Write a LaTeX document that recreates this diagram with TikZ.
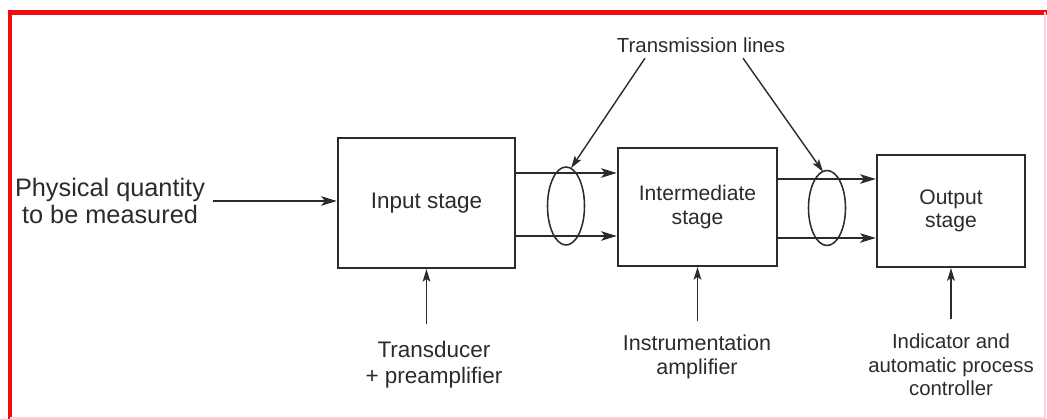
\documentclass[tikz,border=0pt]{standalone}
\usepackage{fontspec}
\setmainfont{Liberation Sans}
\usetikzlibrary{arrows.meta, positioning, shapes.geometric, calc}
\definecolor{inkDark}{HTML}{2B2B2B}
\definecolor{frameRed}{HTML}{F20D0D}
\definecolor{framePink}{HTML}{F9D4D8}
\tikzset{
  stageBox/.style={rectangle, draw=inkDark, line width=1.5pt, fill=white,
                   align=center, text=inkDark, inner sep=2pt},
  flowArrow/.style={-{Stealth[length=11pt, width=6.5pt, inset=2.5pt]}, inkDark, line width=2.1pt},
  pointArrow/.style={-{Stealth[length=9pt, width=5.5pt, inset=2pt]}, inkDark, line width=1pt},
  lineLoop/.style={ellipse, draw=inkDark, line width=1.1pt, minimum width=0.925cm,
                   minimum height=1.95cm, inner sep=0pt},
  noteText/.style={align=center, text=inkDark, inner sep=1pt},
}

\begin{document}
\begin{tikzpicture}[x=0.025cm, y=-0.025cm]
    \useasboundingbox (0,0) rectangle (1047,419);
    % screenshot frame
    \draw[frameRed, line width=3pt] (10,419) -- (10,12.5) -- (1047,12.5);
    \draw[framePink, line width=1pt] (1045,12.5) -- (1045,418) -- (10,418);

    % stages
    \node[stageBox, minimum width=4.425cm, minimum height=3.25cm, font=\fontsize{16}{18}\selectfont] (inp) at (426.5,203) {Input stage};
    \node[stageBox, minimum width=3.975cm, minimum height=2.95cm, font=\fontsize{15}{17.7}\selectfont] (mid) at (697.5,207) {Intermediate\\stage};
    \node[stageBox, minimum width=3.7cm, minimum height=2.8cm, font=\fontsize{15}{16.5}\selectfont] (outp) at (951,211) {Output\\stage};

    \node[noteText, font=\fontsize{18}{19.5}\selectfont] (phys) at (110,201) {Physical quantity\\to be measured};
    \draw[flowArrow] ([xshift=0.15cm]phys.east) -- (phys.east -| inp.west);

    % transmission lines
    \draw[flowArrow] ($(inp.east)+(0,-30)$) -- ($(mid.west)+(0,-34)$);
    \draw[flowArrow] ($(inp.east)+(0,33)$) -- ($(mid.west)+(0,29)$);
    \draw[flowArrow] ($(mid.east)+(0,-28)$) -- ($(outp.west)+(0,-32)$);
    \draw[flowArrow] ($(mid.east)+(0,31)$) -- ($(outp.west)+(0,27)$);
    \node[lineLoop] (loop1) at (566,206) {};
    \node[lineLoop, minimum height=1.875cm] (loop2) at (827,208) {};

    \node[noteText, font=\fontsize{14.5}{16}\selectfont] (trans) at (701,45) {Transmission lines};
    \draw[pointArrow] ($(trans.south)+(-56,4)$) -- ($(loop1.north)+(5,2)$);
    \draw[pointArrow] ($(trans.south)+(42,4)$) -- ($(loop2.north)+(-4,2)$);

    % what feeds each stage
    \node[noteText, font=\fontsize{16}{18.5}\selectfont] (xdcr) at (434,365) {Transducer\\+ preamplifier};
    \node[noteText, font=\fontsize{15.3}{17.5}\selectfont] (inamp) at (697,357) {Instrumentation\\amplifier};
    \node[noteText, font=\fontsize{14.5}{16.7}\selectfont] (ind) at (951,365) {Indicator and\\automatic process\\controller};
    \draw[pointArrow] ($(inp.south)+(0,55)$) -- (inp.south);
    \draw[pointArrow] ($(mid.south)+(0,54)$) -- (mid.south);
    \draw[pointArrow] ($(outp.south)+(0,51)$) -- (outp.south);
\end{tikzpicture}
\end{document}
